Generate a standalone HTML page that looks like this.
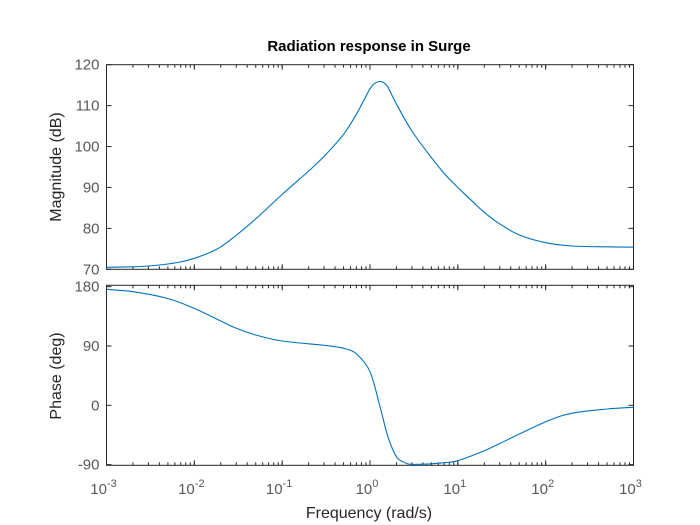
<!DOCTYPE html>
<html><head><meta charset="utf-8"><style>
body{margin:0;background:#fff;}
svg{display:block;font-family:"Liberation Sans",sans-serif;}
</style></head><body>
<svg id="c" width="700" height="525">
<rect width="700" height="525" fill="#fff"/>
</svg>
<script>
const magFreqs=[0.001,0.002,0.003,0.005,0.007,0.01,0.015,0.02,0.03,0.05,0.1,0.2,0.3,0.5,0.7,1,1.15,1.3,1.45,1.6,2,3,5,7,10,15,20,30,50,100,200,500,1000];
const magDb=[70.5,70.6,70.8,71.3,71.8,72.7,74.1,75.5,78.3,82.3,88.3,94.0,97.6,103.0,107.9,114.1,115.5,115.9,115.5,114.5,110.4,103.8,97.3,93.4,90.0,86.4,83.9,81.1,78.4,76.5,75.7,75.5,75.4];
const phFreqs=[0.001,0.002,0.005,0.01,0.02,0.03,0.05,0.1,0.3,0.5,0.7,1,1.3,1.6,2,2.5,3,5,7,10,20,30,100,200,500,1000];
const phaseDeg=[176,172.4,162,147,128,117,106.7,97.6,91,86.5,78,51,-2,-47.6,-78,-87,-89.5,-88.7,-87,-84,-69,-58,-25,-12,-5.6,-3];
const xTicks=[-3,-2,-1,0,1,2,3];
const magTicks=[70,80,90,100,110,120];
const phTicks=[-90,0,90,180];
const NS='http://www.w3.org/2000/svg';
const svg=document.getElementById('c');
const L=106.5,R=633.5;
const x=f=>L+(Math.log10(f)+3)/6*(R-L);
const top1=64.7,bot1=269.3,top2=285.3,bot2=465.3;
const yM=v=>bot1-(v-70)/50*(bot1-top1);
const phMin=-91,phMax=182.1;
const yP=v=>bot2-(v-phMin)/(phMax-phMin)*(bot2-top2);
function el(t,a,p){const e=document.createElementNS(NS,t);for(const k in a)e.setAttribute(k,a[k]);(p||svg).appendChild(e);return e;}
function axes(top,bot,name){
  const g=el('g',{});
  
  
  el('rect',{x:L,y:top,width:R-L,height:bot-top,fill:'#fff',stroke:'#262626','stroke-width':1},g);
  for(let d=-3;d<3;d++){for(let m=1;m<=10;m++){const xx=L+(d+3+Math.log10(m))/6*(R-L);const len=m===10?5:3;
    el('line',{x1:xx,x2:xx,y1:bot,y2:bot-len,stroke:'#262626'},g);el('line',{x1:xx,x2:xx,y1:top,y2:top+len,stroke:'#262626'},g);}}
  return g;
}
const g1=axes(top1,bot1,'magnitude-axes');
const g2=axes(top2,bot2,'phase-axes');
magTicks.forEach(v=>{const y=yM(v);
  el('line',{x1:L,x2:L+5,y1:y,y2:y,stroke:'#262626'},g1);el('line',{x1:R,x2:R-5,y1:y,y2:y,stroke:'#262626'},g1);
  const t=el('text',{x:L-7,y:y+5,'text-anchor':'end','font-size':15,fill:'#595959'});t.textContent=v;
  
  });
phTicks.forEach(v=>{const y=yP(v);
  el('line',{x1:L,x2:L+5,y1:y,y2:y,stroke:'#262626'},g2);el('line',{x1:R,x2:R-5,y1:y,y2:y,stroke:'#262626'},g2);
  const t=el('text',{x:L-7,y:y+5,'text-anchor':'end','font-size':15,fill:'#595959'});t.textContent=v;
  
  });
xTicks.forEach(d=>{const xx=L+(d+3)/6*(R-L);
  const t=el('text',{x:xx-3,y:494,'text-anchor':'middle','font-size':15,fill:'#595959'});
  
  
  t.appendChild(document.createTextNode('10'));
  const s=el('tspan',{dy:-7,'font-size':11},t);s.textContent=d;});
function smooth(pts){
  let d='M'+pts[0][0].toFixed(1)+','+pts[0][1].toFixed(1);
  for(let i=0;i<pts.length-1;i++){
    const p0=pts[Math.max(0,i-1)],p1=pts[i],p2=pts[i+1],p3=pts[Math.min(pts.length-1,i+2)];
    const c1=[p1[0]+(p2[0]-p0[0])/6,p1[1]+(p2[1]-p0[1])/6],c2=[p2[0]-(p3[0]-p1[0])/6,p2[1]-(p3[1]-p1[1])/6];
    d+=' C'+c1.map(v=>v.toFixed(1)).join(',')+' '+c2.map(v=>v.toFixed(1)).join(',')+' '+p2[0].toFixed(1)+','+p2[1].toFixed(1);
  }
  return d;
}
function line(fs,vals,yf,name){
  const p=el('path',{d:smooth(fs.map((f,i)=>[x(f),yf(vals[i])])),fill:'none',stroke:'#0072BD','stroke-width':1.1,'stroke-linejoin':'round'});
  
  
}
line(magFreqs,magDb,yM,'magnitude-line');
line(phFreqs,phaseDeg,yP,'phase-line');
let t=el('text',{x:369,y:51,'text-anchor':'middle','font-size':15,'font-weight':'bold',fill:'#000'});t.textContent='Radiation response in Surge';

t=el('text',{x:369,y:518,'text-anchor':'middle','font-size':16,fill:'#262626'});t.textContent='Frequency  (rad/s)';

t=el('text',{x:0,y:0,'text-anchor':'middle','font-size':16,fill:'#262626',transform:'translate(61,167) rotate(-90)'});t.textContent='Magnitude (dB)';

t=el('text',{x:0,y:0,'text-anchor':'middle','font-size':16,fill:'#262626',transform:'translate(61,376) rotate(-90)'});t.textContent='Phase (deg)';

</script>
</body></html>
